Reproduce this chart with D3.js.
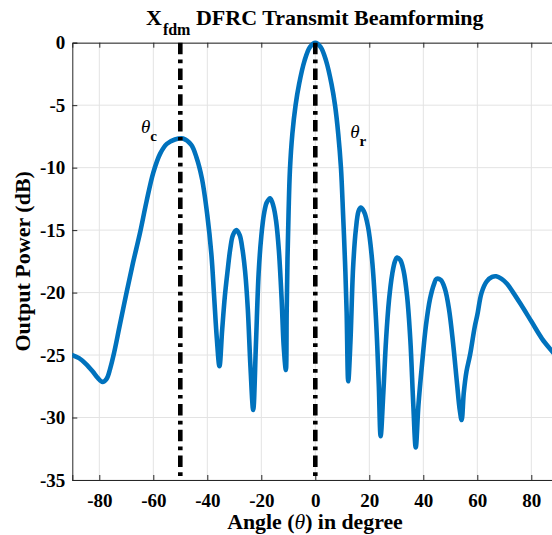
<!DOCTYPE html>
<html><head><meta charset="utf-8">
<script src="https://cdn.jsdelivr.net/npm/d3@7/dist/d3.min.js"></script>
<style>
body{margin:0;background:#fff}
svg{display:block}
text{font-family:"Liberation Serif","Times New Roman",serif;font-weight:bold;fill:#000}
</style>
</head><body>
<svg id="chart" width="552" height="535"></svg>
<script>
// ---- data ----
const angles = [-90,-87.5,-85,-82.5,-80.5,-78.8,-77.3,-76,-74.5,-72.5,-70,-67.5,-65,-62.5,-60,-57.5,-55,-52,-49,-46,-44,-42,-40,-38.5,-37.5,-36.5,-35.5,
  -34.5,-33.5,-32.5,-31.5,-30.5,-29.2,-28,-27,-26,-25,-24,-23.0,
  -22,-21,-20,-19,-18,-16.7,-15.5,-14.5,-13.5,-12.5,-11.7,-10.9,
  -10.6,-10.3,-9.9,-9.4,-8.5,-7.3,-6,-4,-2,0,2,4,6,7.3,8.5,9.5,10.3,11,11.6,12.2,
  13,14,15,16,16.8,18,19.5,21,22.5,23.5,24.2,
  25.2,26.2,27.3,28.5,29.5,30.3,31.5,32.7,34,35.2,36.3,37.2,
  38.2,39.5,41,42.5,44,44.9,46.5,48,49.5,51,52.5,53.5,54.2,
  55,56,57.3,59,60,61.6,63.5,65.5,67,69,71,73,76,80,84,87.7,90];
const powerDB = [-25.0,-25.25,-25.7,-26.3,-26.85,-27.15,-26.9,-26.1,-24.8,-22.7,-20.1,-17.6,-15.3,-12.7,-10.4,-8.9,-8.1,-7.75,-7.66,-8.16,-9.18,-10.86,-13.8,-16.9,-20.2,-23.6,-25.9,
  -23.0,-20.3,-18.3,-16.5,-15.4,-15.0,-15.4,-16.5,-18.3,-21.3,-26.0,-29.4,
  -24.2,-18.5,-15.5,-13.7,-12.8,-12.45,-13.1,-14.3,-16.6,-20.4,-24.3,-26.2,
  -21.5,-17.3,-13.6,-10.2,-7.3,-5.0,-3.3,-1.45,-0.35,0,-0.35,-1.45,-3.3,-5.0,-7.3,-10.0,-13.8,-17.5,-21.5,-27.1,
  -24.0,-18.0,-15.0,-13.5,-13.2,-13.5,-14.7,-17.3,-22.2,-27.3,-31.5,
  -28.0,-23.8,-20.6,-18.5,-17.5,-17.2,-17.4,-18.25,-20.3,-23.8,-29.0,-32.4,
  -29.0,-25.8,-22.6,-20.5,-19.3,-18.9,-19.0,-19.7,-21.3,-24.0,-27.3,-29.4,-30.2,
  -28.0,-26.3,-25.0,-22.8,-21.8,-20.0,-19.1,-18.75,-18.7,-18.9,-19.3,-19.9,-20.9,-22.3,-23.7,-24.7,-25.3];
const xTicks = [-80,-60,-40,-20,0,20,40,60,80];
const yTicks = [0,-5,-10,-15,-20,-25,-30,-35];
const markerAngles = [-50, 0];          // theta_c, theta_r
const markerNames = ["c", "r"];

// ---- layout ----
const svg = d3.select("#chart");
const L = 72.3, R = 558.3, T = 42.7, B = 480;
const x = d3.scaleLinear().domain([-90, 90]).range([L, R]);
const y = d3.scaleLinear().domain([-35, 0]).range([B, T]);
const axisColor = "#262626", gridColor = "#e3e3e3";
const fmt = d => String(d);

svg.append("rect").attr("x",0).attr("y",0).attr("width",552).attr("height",535).attr("fill","#fff");

// grid
svg.append("g").selectAll("line").data(xTicks).join("line")
  .attr("x1", d=>x(d)).attr("x2", d=>x(d)).attr("y1", T).attr("y2", B)
  .attr("stroke", gridColor).attr("stroke-width", 1);
svg.append("g").selectAll("line").data(yTicks).join("line")
  .attr("x1", L).attr("x2", R).attr("y1", d=>y(d)).attr("y2", d=>y(d))
  .attr("stroke", gridColor).attr("stroke-width", 1);

// axes (ticks inward)
const tl = 5;
const xAxisB = d3.axisBottom(x).tickValues(xTicks).tickSize(-tl).tickPadding(14).tickFormat(fmt);
const xAxisT = d3.axisTop(x).tickValues(xTicks).tickSize(-tl).tickFormat("");
const yAxisL = d3.axisLeft(y).tickValues(yTicks).tickSize(-tl).tickPadding(7).tickFormat(fmt);
const yAxisR = d3.axisRight(y).tickValues(yTicks).tickSize(-tl).tickFormat("");

function styleAxis(g){
  g.select(".domain").attr("stroke", axisColor).attr("stroke-width", 1);
  g.selectAll(".tick line").attr("stroke", axisColor);
  g.selectAll(".tick text").attr("fill","#000").style("font-size","19px")
   .style("font-family",'"Liberation Serif","Times New Roman",serif').style("font-weight","bold");
}
svg.append("g").attr("transform",`translate(0,${B})`).call(xAxisB).call(styleAxis);
svg.append("g").attr("transform",`translate(0,${T})`).call(xAxisT).call(styleAxis);
svg.append("g").attr("transform",`translate(${L},0)`).call(yAxisL).call(styleAxis);
svg.append("g").attr("transform",`translate(${R},0)`).call(yAxisR).call(styleAxis);

// clip
svg.append("clipPath").attr("id","plotclip").append("rect")
  .attr("x", L).attr("y", T-3).attr("width", R-L).attr("height", B-T+3);

// curve
const pts = angles.map((a,i)=>[a, powerDB[i]]);
svg.append("path").datum(pts)
  .attr("clip-path","url(#plotclip)")
  .attr("fill","none").attr("stroke","#0072BD").attr("stroke-width",4.6)
  .attr("stroke-linejoin","round").attr("stroke-linecap","round")
  .attr("d", d3.line().x(d=>x(d[0])).y(d=>y(d[1])).curve(d3.curveCatmullRom.alpha(0.5)));

// marker lines
svg.append("g").selectAll("line").data(markerAngles).join("line")
  .attr("x1", d=>x(d)).attr("x2", d=>x(d)).attr("y1", T).attr("y2", B)
  .attr("stroke","#000").attr("stroke-width",4.6)
  .attr("stroke-dasharray","11.5,5.3,3.7,5.3");

// annotations theta_c / theta_r (positions in data units)
const annPos = [[-64.6, -7.25], [12.9, -7.6]];
annPos.forEach((p,i)=>{
  const t = svg.append("text").attr("x", x(p[0])).attr("y", y(p[1])).style("font-size","19px");
  t.append("tspan").text("θ").style("font-style","italic").style("font-weight","normal");
  t.append("tspan").text(markerNames[i]).attr("dy", 8).style("font-size","15px");
});

// title
const title = svg.append("text").attr("x", 146).attr("y", 25).attr("text-anchor","start").style("font-size","22px");
title.append("tspan").text("X");
title.append("tspan").text("fdm").attr("dy",10).attr("dx",1).style("font-size","16px");
title.append("tspan").text(" DFRC Transmit Beamforming").attr("dy",-10);

// x label
const xl = svg.append("text").attr("x", 315).attr("y", 529).attr("text-anchor","middle").style("font-size","21.8px");
xl.append("tspan").text("Angle (");
xl.append("tspan").text("θ").style("font-style","italic").style("font-weight","normal");
xl.append("tspan").text(") in degree");

// y label
svg.append("text").attr("transform",`translate(30,${(T+B)/2}) rotate(-90)`)
  .attr("text-anchor","middle").style("font-size","22px").text("Output Power (dB)");
</script>
</body></html>
